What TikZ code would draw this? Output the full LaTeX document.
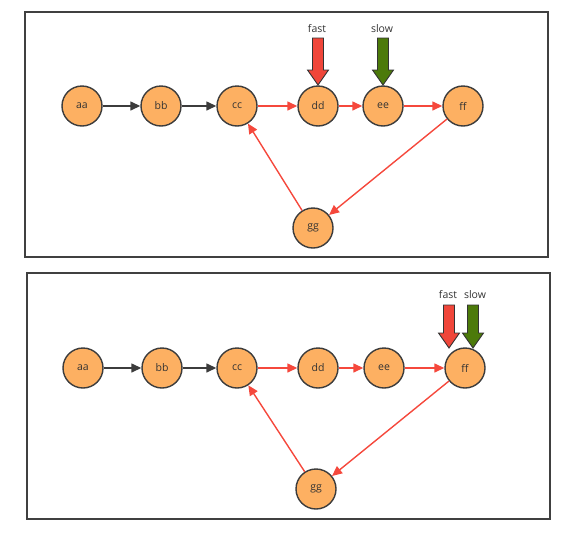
\documentclass[tikz,border=0pt]{standalone}
\usepackage{fontspec}
\setmainfont{Open Sans}
\usetikzlibrary{arrows.meta,positioning}
\definecolor{nodeorange}{HTML}{FDB062}
\definecolor{edgegray}{HTML}{3C3C3C}
\definecolor{edgered}{HTML}{F5483C}
\definecolor{fastred}{HTML}{F0463A}
\definecolor{slowgreen}{HTML}{4C7A0A}
\tikzset{
	vertex/.style={
		circle,
		draw=edgegray, line width=1.4pt,
		fill=nodeorange,
		minimum size=40pt,
		inner sep=0pt,
		font=\fontsize{10.5}{12}\selectfont,
		text=black!80,
		text centered},
	blk/.style={
		-{Triangle[length=10pt,width=9pt]},
		draw=edgegray,
		line width=1.4pt},
	red/.style={
		-{Triangle[length=10pt,width=9pt]},
		draw=edgered,
		line width=1.4pt},
	frame/.style={
		draw=black!75,
		line width=1.8pt},
	tag/.style={
		font=\fontsize{10.5}{12}\selectfont,
		text=black!80,
		inner sep=1pt}
}
% fat pointer: x, top y, tip y, colour
\newcommand{\pointer}[4]{%
\draw[draw=black!80, line width=0.9pt, fill=#4, line join=miter]
	(#1-5.5,#2) -- (#1+5.5,#2) -- (#1+5.5,#3-15) -- (#1+10.5,#3-15) -- (#1,#3)
	-- (#1-10.5,#3-15) -- (#1-5.5,#3-15) -- cycle;}
\begin{document}
\begin{tikzpicture}[x=1pt,y=-1pt]
\useasboundingbox (0,0) rectangle (583,536);

% upper frame
\draw[frame] (25,12) rectangle (548,257);
\node[vertex] (a1) at (82,106) {aa};
\node[vertex] (b1) at (161,106) {bb};
\node[vertex] (c1) at (237,106) {cc};
\node[vertex] (d1) at (318,106) {dd};
\node[vertex] (e1) at (383,106) {ee};
\node[vertex] (f1) at (463,106) {ff};
\node[vertex] (g1) at (313,228) {gg};
\draw[blk] (a1) -- (b1);
\draw[blk] (b1) -- (c1);
\draw[red] (c1) -- (d1);
\draw[red] (d1) -- (e1);
\draw[red] (e1) -- (f1);
\draw[red] (f1) -- (g1);
\draw[red] (g1) -- (c1);
\pointer{318}{38}{85}{fastred}
\pointer{383}{38}{85}{slowgreen}
\node[tag] (fast1) at (317,29) {fast};
\node[tag] (slow1) at (382,29) {slow};

% lower frame
\draw[frame] (27,273) rectangle (550,519);
\node[vertex] (a2) at (83,368) {aa};
\node[vertex] (b2) at (162,368) {bb};
\node[vertex] (c2) at (237,368) {cc};
\node[vertex] (d2) at (318,368) {dd};
\node[vertex] (e2) at (384,368) {ee};
\node[vertex] (f2) at (465,368) {ff};
\node[vertex] (g2) at (316,489) {gg};
\draw[blk] (a2) -- (b2);
\draw[blk] (b2) -- (c2);
\draw[red] (c2) -- (d2);
\draw[red] (d2) -- (e2);
\draw[red] (e2) -- (f2);
\draw[red] (f2) -- (g2);
\draw[red] (g2) -- (c2);
\pointer{449}{305}{348}{fastred}
\pointer{473}{305}{348}{slowgreen}
\node[tag] (fast2) at (448,295) {fast};
\node[tag] (slow2) at (475,295) {slow};
\end{tikzpicture}
\end{document}
